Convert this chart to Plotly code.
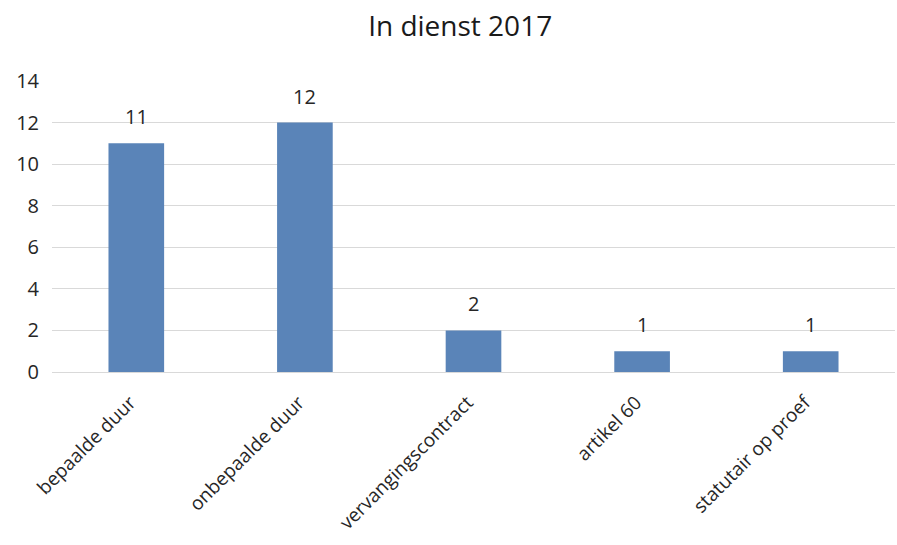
import plotly.graph_objects as go

categories = ["bepaalde duur", "onbepaalde duur", "vervangingscontract", "artikel 60", "statutair op proef"]
values = [11, 12, 2, 1, 1]
y_ticks = [0, 2, 4, 6, 8, 10, 12, 14]

font_family = "Open Sans, Liberation Sans, sans-serif"
bar_color = "#5A84B8"
text_color = "#262626"

fig = go.Figure(
    go.Bar(
        x=categories,
        y=values,
        marker=dict(color=bar_color, line=dict(width=0)),
        hoverinfo="x+y",
    )
)

# value labels sitting a little above each bar
for cat, val in zip(categories, values):
    fig.add_annotation(
        x=cat,
        y=val,
        text=str(val),
        showarrow=False,
        yanchor="bottom",
        yshift=11,
        font=dict(size=20, color=text_color, family=font_family),
    )

fig.update_layout(
    width=897,
    height=545,
    margin=dict(l=52, r=2, t=81, b=173),
    paper_bgcolor="white",
    plot_bgcolor="white",
    title=dict(
        text="In dienst 2017",
        x=0.513,
        xanchor="center",
        y=0.952,
        yanchor="middle",
        font=dict(size=28, color="#1a1a1a", family=font_family),
    ),
    bargap=0.67,
    showlegend=False,
    font=dict(family=font_family, color=text_color),
)

fig.update_xaxes(
    tickangle=-45,
    tickfont=dict(size=19, color=text_color),
    showgrid=False,
    showline=True,
    linecolor="#D9D9D9",
    linewidth=1,
    ticks="",
    automargin=False,
    ticklabelstandoff=11,
    ticklabelshift=-6,
)

fig.update_yaxes(
    range=[0, 14],
    tickvals=y_ticks,
    tickfont=dict(size=20, color=text_color),
    showgrid=True,
    gridcolor="#D9D9D9",
    gridwidth=1,
    zeroline=False,
    showline=False,
    ticks="",
    automargin=False,
    ticklabelstandoff=12,
)

fig.write_html("out.html")
